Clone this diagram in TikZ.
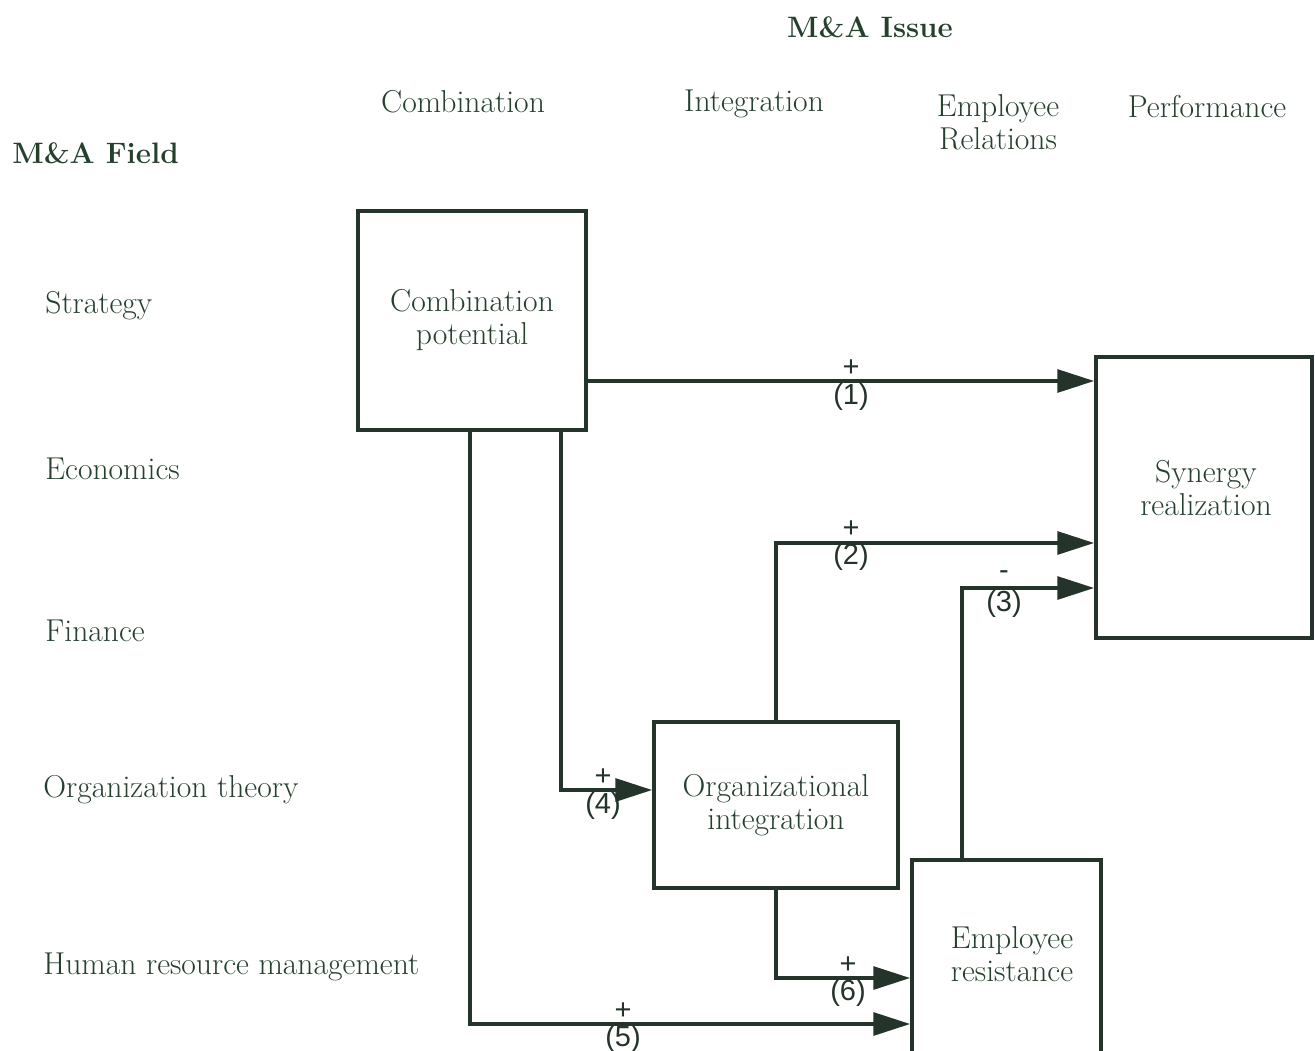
\documentclass[tikz,border=0pt]{standalone}
\usepackage{fontspec}
\newfontfamily\numfont{Liberation Sans}
\usetikzlibrary{arrows.meta}
\definecolor{ink}{RGB}{36,52,42}
\definecolor{txt}{RGB}{38,64,46}
\tikzset{
  box/.style={draw=ink, line width=2.1pt, inner sep=0pt, align=center, text=txt, font=\fontsize{18}{18.8}\selectfont},
  head/.style={text=txt, font=\fontsize{18}{18.8}\selectfont, align=center, inner sep=0pt},
  field/.style={head, anchor=west},
  arr/.style={draw=ink, line width=2.1pt, -{Triangle[length=21pt,width=13pt]}},
  sgn/.style={text=ink, font=\numfont\fontsize{16.5}{16.5}\selectfont, inner sep=0pt},
}
\begin{document}
\begin{tikzpicture}[x=0.02cm, y=-0.02cm]
\useasboundingbox (0,0) rectangle (1315,1051);

% headings
\node[head, font=\bfseries\fontsize{16.8}{19}\selectfont] (issue) at (870,27) {M\&A Issue};
\node[head, anchor=west, font=\bfseries\fontsize{16.8}{19}\selectfont] (field) at (12,153) {M\&A Field};
\node[head] (hcomb) at (463,102) {Combination};
\node[head] (hint) at (754,104) {Integration};
\node[head] (hrel) at (998,122) {Employee\\Relations};
\node[head] (hperf) at (1207,107) {Performance};

% fields
\node[field] (strat) at (45,306) {Strategy};
\node[field] (econ) at (45,469) {Economics};
\node[field] (fin) at (45,631) {Finance};
\node[field] (org) at (43,790) {Organization theory};
\node[field] (hrm) at (43,967) {Human resource management};

% boxes
\node[box, minimum width=4.56cm, minimum height=4.38cm] (cp) at (472,320.5) {Combination\\potential};
\node[box, minimum width=4.32cm, minimum height=5.62cm] (sr) at (1204,497.5) {};
\node[head] (srtext) at (1206,488) {Synergy\\realization};
\node[box, minimum width=4.88cm, minimum height=3.32cm] (oi) at (776,805) {Organizational\\integration};
\node[box, minimum width=3.78cm, minimum height=4.2cm] (er) at (1006.5,965) {};
\node[head] (ertext) at (1012,954) {Employee\\resistance};

% connectors
\draw[arr] (cp.east |- 0,381) -- (sr.west |- 0,381);
\draw[arr] (oi.north) |- (sr.west |- 0,543);
\draw[arr] (er.north -| 962,0) |- (sr.west |- 0,588);
\draw[arr] (cp.south -| 561,0) |- (oi.west |- 0,790);
\draw[arr] (cp.south -| 470,0) |- (er.west |- 0,1024);
\draw[arr] (oi.south) |- (er.west |- 0,978);

% signs
\node[sgn] (s1) at (851,368) {+};
\node[sgn] (n1) at (851,397) {(1)};
\node[sgn] (s2) at (851,529) {+};
\node[sgn] (n2) at (851,557) {(2)};
\node[sgn] (s3) at (1004,575) {-};
\node[sgn] (n3) at (1004,604) {(3)};
\node[sgn] (s4) at (603,777) {+};
\node[sgn] (n4) at (603,806) {(4)};
\node[sgn] (s5) at (623,1011) {+};
\node[sgn] (n5) at (623,1039) {(5)};
\node[sgn] (s6) at (848,965) {+};
\node[sgn] (n6) at (848,993) {(6)};
\end{tikzpicture}
\end{document}
